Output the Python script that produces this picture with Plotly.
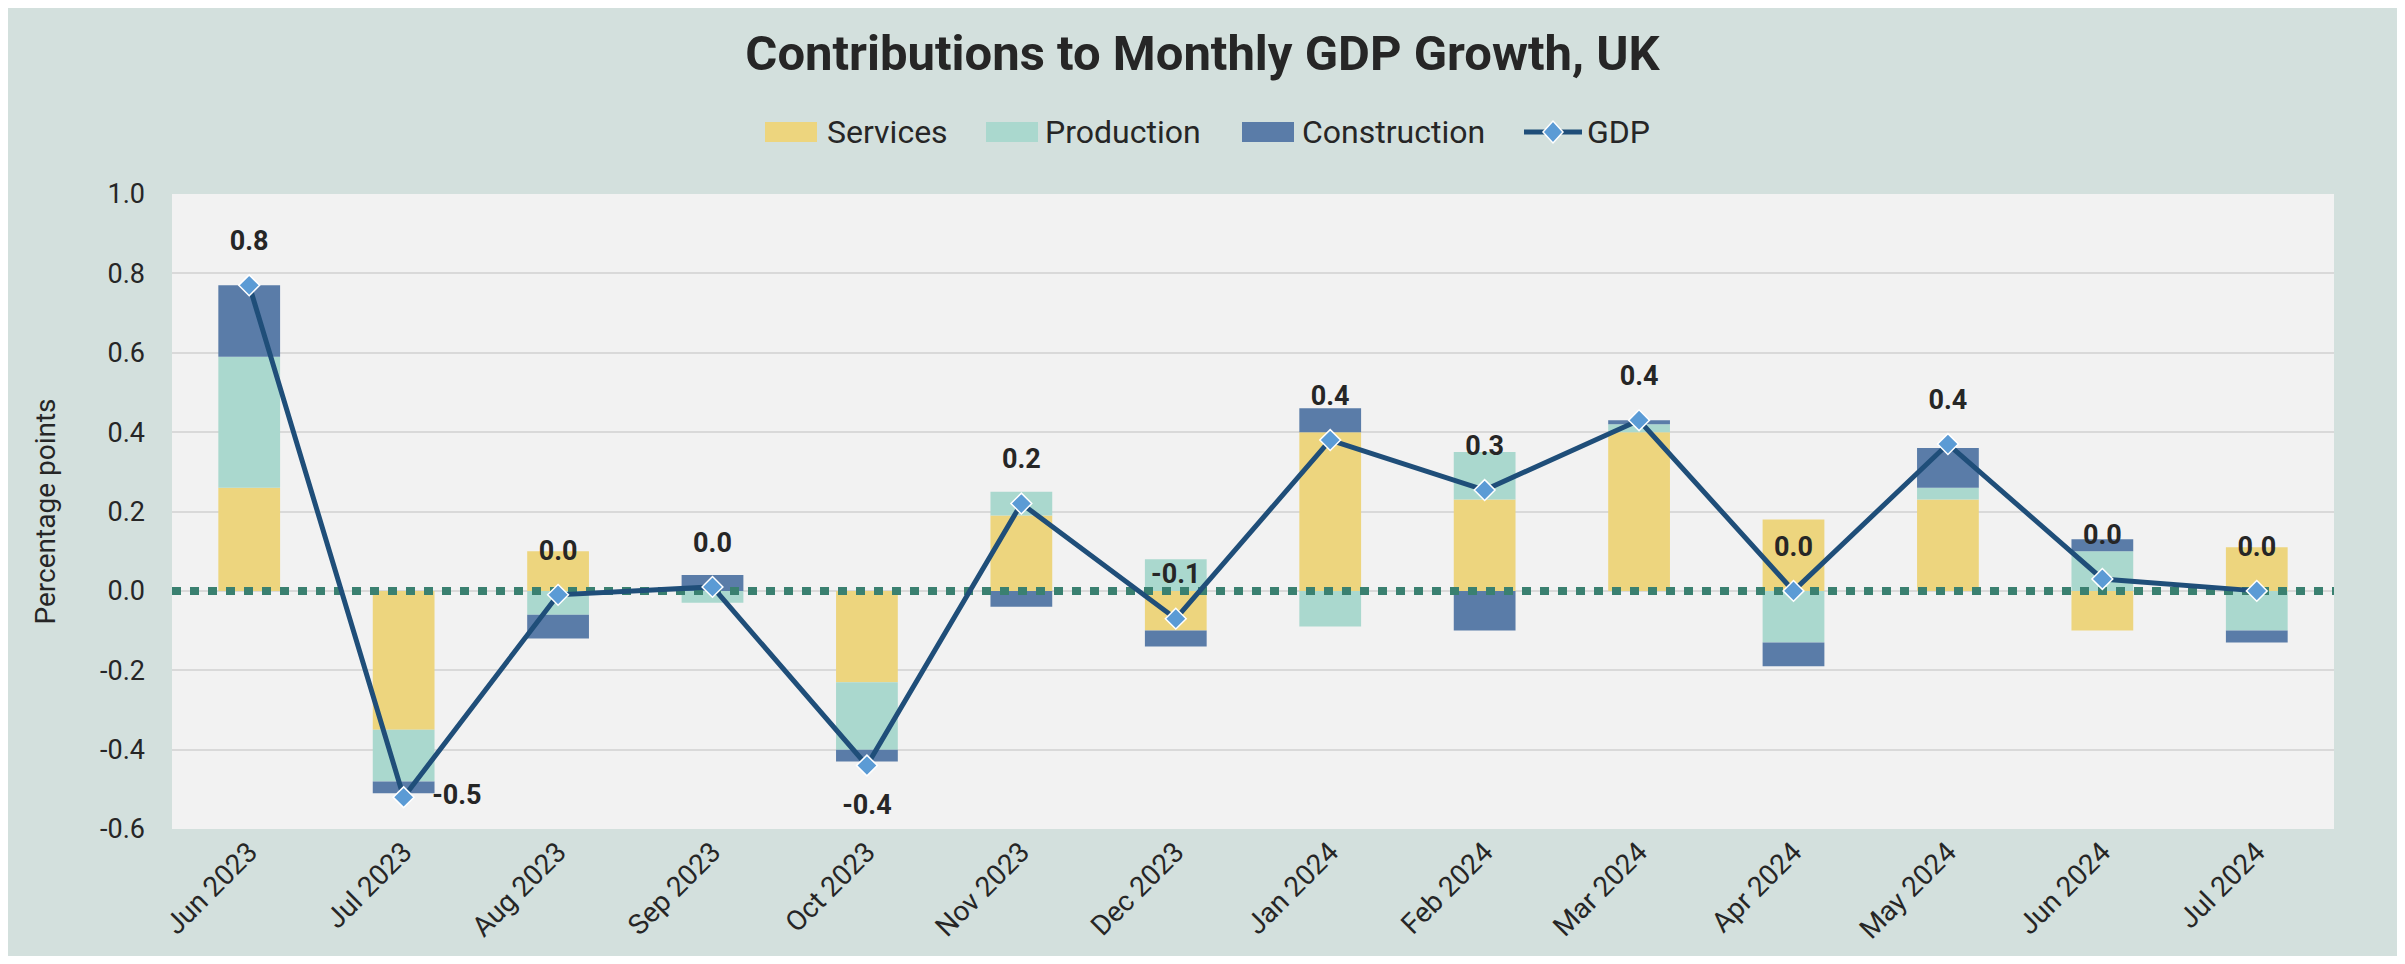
import plotly.graph_objects as go

months = ["Jun 2023", "Jul 2023", "Aug 2023", "Sep 2023", "Oct 2023", "Nov 2023", "Dec 2023",
          "Jan 2024", "Feb 2024", "Mar 2024", "Apr 2024", "May 2024", "Jun 2024", "Jul 2024"]
services = [0.26, -0.35, 0.10, 0.00, -0.23, 0.19, -0.10, 0.40, 0.23, 0.40, 0.18, 0.23, -0.10, 0.11]
production = [0.33, -0.13, -0.06, -0.03, -0.17, 0.06, 0.08, -0.09, 0.12, 0.02, -0.13, 0.03, 0.10, -0.10]
construction = [0.18, -0.03, -0.06, 0.04, -0.03, -0.04, -0.04, 0.06, -0.10, 0.01, -0.06, 0.10, 0.03, -0.03]
gdp = [0.77, -0.52, -0.01, 0.01, -0.44, 0.22, -0.07, 0.38, 0.254, 0.43, 0.00, 0.37, 0.03, 0.00]
label_pos = ["top center", "middle right", "top center", "top center", "bottom center", "top center",
             "top center", "top center", "top center", "top center", "top center", "top center",
             "top center", "top center"]
y_ticks = [-0.6, -0.4, -0.2, 0.0, 0.2, 0.4, 0.6, 0.8, 1.0]
legend_names = ["Services", "Production", "Construction", "GDP"]


def fmt(v):
    s = f"{v:.1f}"
    return "0.0" if s == "-0.0" else s


x = list(range(len(months)))
gdp_text = [fmt(v) for v in gdp]
y_tick_text = [fmt(v) for v in y_ticks]

C_SERV = "#EDD57E"
C_PROD = "#AAD8CE"
C_CONS = "#5A7CA8"
C_LINE = "#1F4E79"
C_MARK = "#5B9BD5"
TXT = "#262626"
FONT = "Roboto"

# figure geometry (pixels)
W, H = 2389, 948
ML, MR, MT, MB = 164, 63, 186, 127
PW, PH = W - ML - MR, H - MT - MB


def px_x(X):  # figure-pixel x -> paper
    return (X - ML) / PW


def px_y(Y):  # figure-pixel y (from top) -> paper
    return (H - MB - Y) / PH


fig = go.Figure()
series = [("Services", services, C_SERV),
          ("Production", production, C_PROD),
          ("Construction", construction, C_CONS)]
for name, vals, col in series:
    fig.add_trace(go.Bar(x=x, y=vals, name=name, marker=dict(color=col, line=dict(width=0)),
                         hoverinfo="y+name", showlegend=False))

# zero reference line (dotted)
fig.add_trace(go.Scatter(x=[-0.5, len(months) - 0.5], y=[0, 0], mode="lines",
                         line=dict(color="#3A8070", width=8, dash="9px,9px"),
                         showlegend=False, hoverinfo="skip"))

fig.add_trace(go.Scatter(x=x, y=gdp, name="GDP", mode="lines+markers",
                         line=dict(color=C_LINE, width=5),
                         marker=dict(symbol="diamond", size=16, color=C_MARK,
                                     line=dict(color="white", width=1.5)),
                         showlegend=False))

# data labels
fig.add_trace(go.Scatter(x=x, y=gdp, mode="markers+text", text=gdp_text,
                         textposition=label_pos,
                         textfont=dict(family=FONT, size=27, color=TXT, weight="bold"),
                         marker=dict(size=44, color="rgba(0,0,0,0)"),
                         showlegend=False, hoverinfo="skip"))

# legend (drawn manually to match swatch sizes and spacing)
LEG_Y = 124
swatch_x = [757, 978, 1234]
text_x = [817, 1035, 1292, 1577]
shapes = []
annotations = []
for (name, _, col), sx in zip(series, swatch_x):
    shapes.append(dict(type="rect", xref="paper", yref="paper",
                       x0=px_x(sx), x1=px_x(sx + 52), y0=px_y(LEG_Y + 10), y1=px_y(LEG_Y - 10),
                       fillcolor=col, line=dict(width=0), layer="above"))
gx0, gx1, gc = 1516, 1574, 1545
shapes.append(dict(type="line", xref="paper", yref="paper",
                   x0=px_x(gx0), x1=px_x(gx1), y0=px_y(LEG_Y), y1=px_y(LEG_Y),
                   line=dict(color=C_LINE, width=5), layer="above"))
shapes.append(dict(type="path", xref="paper", yref="paper",
                   path=(f"M{px_x(gc - 10)},{px_y(LEG_Y)} L{px_x(gc)},{px_y(LEG_Y - 11)} "
                         f"L{px_x(gc + 10)},{px_y(LEG_Y)} L{px_x(gc)},{px_y(LEG_Y + 11)} Z"),
                   fillcolor=C_MARK, line=dict(color="white", width=1.5), layer="above"))
for name, tx in zip(legend_names, text_x):
    annotations.append(dict(text=name, xref="paper", yref="paper", x=px_x(tx), y=px_y(LEG_Y),
                            xanchor="left", yanchor="middle", showarrow=False,
                            font=dict(family=FONT, size=32, color=TXT)))

fig.update_layout(
    width=W, height=H,
    barmode="relative", bargap=0.6,
    paper_bgcolor="#D3E0DD", plot_bgcolor="#F2F2F2",
    margin=dict(l=ML, r=MR, t=MT, b=MB, autoexpand=False),
    font=dict(family=FONT, color=TXT),
    title=dict(text="<b>Contributions to Monthly GDP Growth, UK</b>",
               x=0.5, xanchor="center", xref="container",
               y=1 - 45 / H, yanchor="middle", yref="container",
               font=dict(family=FONT, size=49, color=TXT)),
    showlegend=False,
    shapes=shapes,
    annotations=annotations,
)
fig.update_xaxes(tickmode="array", tickvals=x, ticktext=months, range=[-0.5, len(months) - 0.5],
                 tickangle=-45, tickfont=dict(family=FONT, size=28, color=TXT),
                 showgrid=False, zeroline=False, showline=False, ticks="")
fig.update_yaxes(range=[-0.6, 1.0], tickmode="array", tickvals=y_ticks, ticktext=y_tick_text,
                 tickfont=dict(family=FONT, size=27, color=TXT),
                 gridcolor="#D9D9D9", gridwidth=2, zeroline=False, showline=False,
                 ticklabelstandoff=26,
                 title=dict(text="Percentage points", font=dict(family=FONT, size=28, color=TXT),
                            standoff=36))

fig.write_html("out.html")
